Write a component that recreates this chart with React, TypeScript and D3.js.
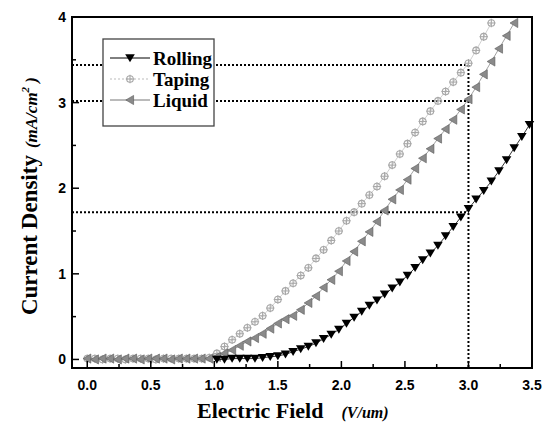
import React from "react";
import * as d3 from "d3";

// electric field (V/um) at each measured point
const fieldValues = [
  0.0, 0.06, 0.12, 0.18, 0.24, 0.3, 0.36, 0.42, 0.48, 0.54, 0.6, 0.66, 0.72, 0.78, 0.84, 0.9, 0.96,
  1.02, 1.08, 1.14, 1.2, 1.26, 1.32, 1.38, 1.44, 1.5, 1.56, 1.62, 1.68, 1.74, 1.8, 1.86, 1.92, 1.98,
  2.04, 2.1, 2.16, 2.22, 2.28, 2.34, 2.4, 2.46, 2.52, 2.58, 2.64, 2.7, 2.76, 2.82, 2.88, 2.94,
  3.0, 3.06, 3.12, 3.18, 3.24, 3.3, 3.36, 3.42, 3.48,
];

// current density (mA/cm2), null where the series has no point
const rolling = [
  null, null, null, null, null, null, null, null, null, null, null, null, null, null, null, null, null,
  0.0, 0.0, 0.01, 0.01, 0.01, 0.01, 0.02, 0.03, 0.04, 0.06, 0.09, 0.12, 0.15, 0.19, 0.24, 0.29, 0.35,
  0.42, 0.49, 0.56, 0.63, 0.69, 0.76, 0.83, 0.9, 0.98, 1.07, 1.16, 1.24, 1.33, 1.44, 1.55, 1.66,
  1.76, 1.87, 1.97, 2.08, 2.2, 2.33, 2.47, 2.6, 2.74,
];

const taping = [
  0.01, 0.01, 0.0, 0.01, 0.01, 0.0, 0.01, 0.01, 0.01, 0.0, 0.01, 0.01, 0.01, 0.01, 0.01, 0.01, 0.02,
  0.07, 0.15, 0.23, 0.3, 0.37, 0.44, 0.51, 0.6, 0.7, 0.8, 0.89, 0.98, 1.07, 1.18, 1.28, 1.39, 1.5,
  1.62, 1.72, 1.82, 1.92, 2.02, 2.14, 2.27, 2.4, 2.52, 2.65, 2.78, 2.9, 3.02, 3.13, 3.24, 3.35,
  3.46, 3.61, 3.77, 3.93, null, null, null, null, null,
];

const liquid = [
  0.01, 0.0, 0.01, 0.01, 0.0, 0.01, 0.01, 0.0, 0.01, 0.01, 0.01, 0.0, 0.01, 0.01, 0.01, 0.01, 0.01,
  0.03, 0.07, 0.11, 0.16, 0.21, 0.25, 0.3, 0.36, 0.42, 0.47, 0.51, 0.58, 0.66, 0.74, 0.84, 0.93, 1.03,
  1.15, 1.26, 1.38, 1.49, 1.61, 1.74, 1.87, 1.98, 2.1, 2.23, 2.35, 2.46, 2.58, 2.69, 2.8, 2.92,
  3.04, 3.18, 3.33, 3.48, 3.63, 3.78, 3.93, null, null,
];

const seriesNames = ["Rolling", "Taping", "Liquid"];
const xTicks = [0, 0.5, 1, 1.5, 2, 2.5, 3, 3.5];
const xMinorTicks = [0.25, 0.75, 1.25, 1.75, 2.25, 2.75, 3.25];
const yTicks = [0, 1, 2, 3, 4];
const yMinorTicks = [0.5, 1.5, 2.5, 3.5];

// dotted read-off lines at 3.0 V/um
const guideField = 3.0;
const guideLevels = [3.44, 3.02, 1.72];

const W = 550;
const H = 432;
const left = 72;
const right = 532;
const top = 17;
const bottom = 368;

const x = d3.scaleLinear().domain([-0.12, 3.5]).range([left, right]);
const y = d3.scaleLinear().domain([-0.1, 4]).range([bottom, top]);

const tickFont = "'Liberation Sans', Arial, sans-serif";
const titleFont = "'Liberation Serif', 'Times New Roman', serif";

type Pt = [number, number];

function points(values: (number | null)[]): Pt[] {
  const out: Pt[] = [];
  values.forEach((v, i) => {
    if (v !== null) out.push([fieldValues[i], v]);
  });
  return out;
}

const line = d3
  .line<Pt>()
  .x((d) => x(d[0]))
  .y((d) => y(d[1]));

function DownTri({ cx, cy }: { cx: number; cy: number }) {
  return <path d={`M${cx - 4.8},${cy - 3.8}L${cx + 4.8},${cy - 3.8}L${cx},${cy + 4.2}Z`} fill="#000" />;
}

function LeftTri({ cx, cy }: { cx: number; cy: number }) {
  return (
    <path
      d={`M${cx + 3.6},${cy - 4.6}L${cx + 3.6},${cy + 4.6}L${cx - 4.2},${cy}Z`}
      fill="#8a8a8a"
      stroke="#5a5a5a"
      strokeWidth={0.6}
    />
  );
}

function CrossCircle({ cx, cy }: { cx: number; cy: number }) {
  return (
    <g stroke="#a8a8a8" strokeWidth={1.1} fill="none">
      <circle cx={cx} cy={cy} r={3.3} />
      <line x1={cx - 4.2} x2={cx + 4.2} y1={cy} y2={cy} />
      <line x1={cx} x2={cx} y1={cy - 4.2} y2={cy + 4.2} />
    </g>
  );
}

export default function App() {
  const rollPts = points(rolling);
  const tapePts = points(taping);
  const liqPts = points(liquid);

  const legendRows = [58, 79, 100];

  return (
    <div style={{ position: "absolute", left: 0, top: 0 }}>
      <svg width={W} height={H} style={{ display: "block", background: "#fff" }}>
        {/* guide lines */}
        <g stroke="#000" strokeWidth={2} strokeDasharray="2,2" fill="none">
          {guideLevels.map((lv) => (
            <line key={lv} x1={left} x2={x(guideField)} y1={y(lv)} y2={y(lv)} />
          ))}
          <line x1={x(guideField)} x2={x(guideField)} y1={y(guideLevels[0])} y2={bottom} />
        </g>

        {/* series */}
        <path d={line(tapePts) || ""} fill="none" stroke="#c4c4c4" strokeWidth={0.8} />
        {tapePts.map((d, i) => (
          <CrossCircle key={"t" + i} cx={x(d[0])} cy={y(d[1])} />
        ))}
        <path d={line(liqPts) || ""} fill="none" stroke="#8a8a8a" strokeWidth={0.8} />
        {liqPts.map((d, i) => (
          <LeftTri key={"l" + i} cx={x(d[0])} cy={y(d[1])} />
        ))}
        <path d={line(rollPts) || ""} fill="none" stroke="#000" strokeWidth={0.8} />
        {rollPts.map((d, i) => (
          <DownTri key={"r" + i} cx={x(d[0])} cy={y(d[1])} />
        ))}

        {/* frame */}
        <rect x={left} y={top} width={right - left} height={bottom - top} fill="none" stroke="#000" strokeWidth={2} />

        {/* ticks */}
        <g stroke="#000" strokeWidth={1.5}>
          {xTicks.map((t) => (
            <line key={t} x1={x(t)} x2={x(t)} y1={bottom} y2={bottom - 7} />
          ))}
          {xMinorTicks.map((t) => (
            <line key={t} x1={x(t)} x2={x(t)} y1={bottom} y2={bottom - 4} />
          ))}
          {yTicks.map((t) => (
            <line key={t} x1={left} x2={left + 7} y1={y(t)} y2={y(t)} />
          ))}
          {yMinorTicks.map((t) => (
            <line key={t} x1={left} x2={left + 4} y1={y(t)} y2={y(t)} />
          ))}
        </g>
        {xTicks.map((t) => (
          <text
            key={t}
            x={x(t)}
            y={390}
            textAnchor="middle"
            fontFamily={tickFont}
            fontWeight="bold"
            fontSize={14}
          >
            {d3.format(".1f")(t)}
          </text>
        ))}
        {yTicks.map((t) => (
          <text
            key={t}
            x={66}
            y={y(t)}
            dy="0.36em"
            textAnchor="end"
            fontFamily={tickFont}
            fontWeight="bold"
            fontSize={14}
          >
            {t}
          </text>
        ))}

        {/* axis titles */}
        <text x={197} y={418} fontFamily={titleFont} fontWeight="bold" fontSize={22}>
          Electric Field
          <tspan dx={18} fontStyle="italic" fontSize={16}>
            (V/um)
          </tspan>
        </text>
        <text
          transform={`translate(37,196) rotate(-90)`}
          textAnchor="middle"
          fontFamily={titleFont}
          fontWeight="bold"
          fontSize={23}
        >
          Current Density
          <tspan dx={7} fontStyle="italic" fontSize={17}>
            (mA/cm
          </tspan>
          <tspan fontStyle="italic" fontSize={11} dy={-8}>
            2
          </tspan>
          <tspan fontStyle="italic" fontSize={17} dy={8}>
            {" )"}
          </tspan>
        </text>

        {/* legend */}
        <rect x={103} y={39} width={111} height={87} fill="#fff" stroke="#444" strokeWidth={1.3} />
        {seriesNames.map((name, i) => {
          const ly = legendRows[i];
          return (
            <g key={name}>
              <line
                x1={110}
                x2={150}
                y1={ly}
                y2={ly}
                stroke={i === 0 ? "#000" : i === 1 ? "#bbb" : "#777"}
                strokeWidth={1}
                strokeDasharray={i === 1 ? "2,2" : undefined}
              />
              {i === 0 && <DownTri cx={130} cy={ly} />}
              {i === 1 && <CrossCircle cx={130} cy={ly} />}
              {i === 2 && <LeftTri cx={130} cy={ly} />}
              <text x={153} y={ly} dy="0.35em" fontFamily={titleFont} fontWeight="bold" fontSize={19}>
                {name}
              </text>
            </g>
          );
        })}
      </svg>
    </div>
  );
}
